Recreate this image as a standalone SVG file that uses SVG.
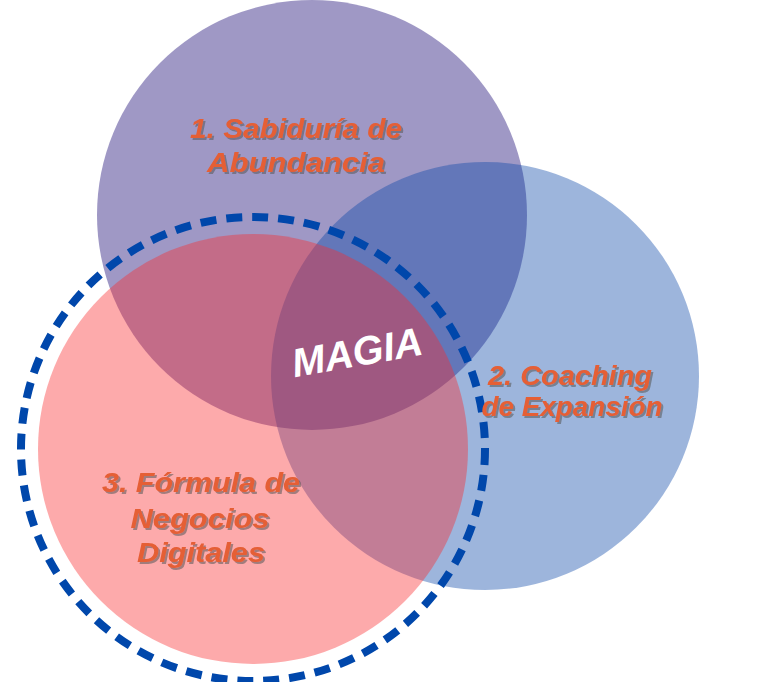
<svg xmlns="http://www.w3.org/2000/svg" width="760" height="682" viewBox="0 0 760 682">
<defs>
<filter id="sh" x="-10%" y="-20%" width="130%" height="150%">
<feDropShadow dx="2" dy="2" stdDeviation="0.6" flood-color="#555" flood-opacity="0.55"/>
</filter>
</defs>
<style>
.lbl{font-family:"Liberation Sans",Arial,sans-serif;font-weight:bold;font-style:italic;fill:#e55e35;text-anchor:middle;filter:url(#sh)}
.magia{font-family:"Liberation Sans",Arial,sans-serif;font-style:italic;font-weight:bold;fill:#ffffff;text-anchor:middle}
</style>
<rect width="760" height="682" fill="#ffffff"/>
<g id="circle-1">
<circle cx="312" cy="215" r="215" fill="#5f539e" fill-opacity="0.6"/>
</g>
<g id="circle-2">
<circle cx="485" cy="376" r="214" fill="#0a46a7" fill-opacity="0.4"/>
</g>
<g id="circle-3">
<circle cx="253" cy="449" r="215" fill="#fa2a2d" fill-opacity="0.4"/>
</g>
<g id="connectors">
<circle cx="253" cy="449" r="232" fill="none" stroke="#0047ab" stroke-width="8" stroke-dasharray="16 10"/>
</g>
<g id="label-1">
<text class="lbl" x="296" y="138" font-size="28" textLength="212" lengthAdjust="spacingAndGlyphs">1. Sabiduría de</text>
<text class="lbl" x="296" y="172" font-size="28" textLength="178" lengthAdjust="spacingAndGlyphs">Abundancia</text>
</g>
<g id="label-2">
<text class="lbl" x="570" y="385" font-size="27" textLength="164" lengthAdjust="spacingAndGlyphs">2. Coaching</text>
<text class="lbl" x="572" y="416" font-size="27" textLength="181" lengthAdjust="spacingAndGlyphs">de Expansión</text>
</g>
<g id="label-3">
<text class="lbl" x="201" y="492" font-size="28" textLength="198" lengthAdjust="spacingAndGlyphs">3. Fórmula de</text>
<text class="lbl" x="200" y="528" font-size="28" textLength="139" lengthAdjust="spacingAndGlyphs">Negocios</text>
<text class="lbl" x="201" y="562" font-size="28" textLength="128" lengthAdjust="spacingAndGlyphs">Digitales</text>
</g>
<g id="magia">
<text class="magia" x="357" y="366" font-size="40" textLength="132" lengthAdjust="spacingAndGlyphs" transform="rotate(-10 357 352)">MAGIA</text>
</g>
</svg>
